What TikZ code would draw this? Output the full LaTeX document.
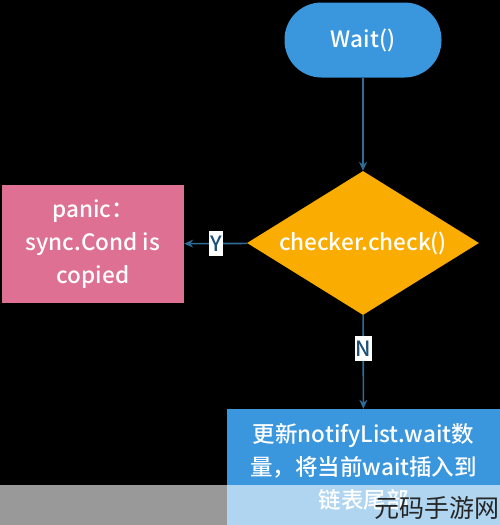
\documentclass[tikz,border=0pt]{standalone}
\usepackage{fontspec}
\setmainfont{Noto Sans CJK SC}[BoldFont={* Medium}]
\usetikzlibrary{shapes.geometric,arrows.meta}
\definecolor{nodeblue}{RGB}{58,150,221}
\definecolor{nodeorange}{RGB}{250,172,0}
\definecolor{nodepink}{RGB}{222,112,148}
\definecolor{linkblue}{RGB}{46,108,150}
\definecolor{lbltext}{RGB}{30,80,120}
\tikzset{
  base/.style={text=white, font=\bfseries\fontsize{22.5}{33}\selectfont, inner sep=0pt, align=center},
  startbox/.style={base, fill=nodeblue, rounded corners=37pt, minimum width=157pt, minimum height=75pt},
  decbox/.style={base, diamond, aspect=1.61, fill=nodeorange, minimum width=232pt, minimum height=144pt},
  errbox/.style={base, rectangle, fill=nodepink, minimum width=182pt, minimum height=118pt},
  procbox/.style={base, rectangle, fill=nodeblue, minimum width=273pt, minimum height=116pt},
  link/.style={draw=linkblue, line width=1.6pt, -{Stealth[length=9pt,width=8pt]}},
  lbl/.style={fill=white, text=lbltext, font=\bfseries\fontsize{21}{22}\selectfont, inner sep=1pt, minimum width=14pt, minimum height=25pt}
}
\begin{document}
\begin{tikzpicture}[x=1pt,y=-1pt]
\fill[black] (0,0) rectangle (500,525);
\useasboundingbox (0,0) rectangle (500,525);
\node[startbox] (wait) at (363,40) {Wait()};
\node[decbox] (check) at (363,243) {checker.check()};
\node[errbox] (panic) at (93,244) {panic：\\sync.Cond is\\copied};
\node[procbox] (update) at (363.5,467) {更新notifyList.wait数\\量，将当前wait插入到\\链表尾部};
\draw[link] (wait) -- (check);
\draw[link] (check) -- node[lbl]{Y} (panic);
\draw[link] (check) -- node[lbl, pos=0.36]{N} (update);
\fill[white, opacity=0.6] (0,485) rectangle (500,525);
\node[text=black!85, font=\fontsize{25}{25}\selectfont, inner sep=0pt, anchor=west] (wm) at (374,508) {元码手游网};
\end{tikzpicture}
\end{document}
